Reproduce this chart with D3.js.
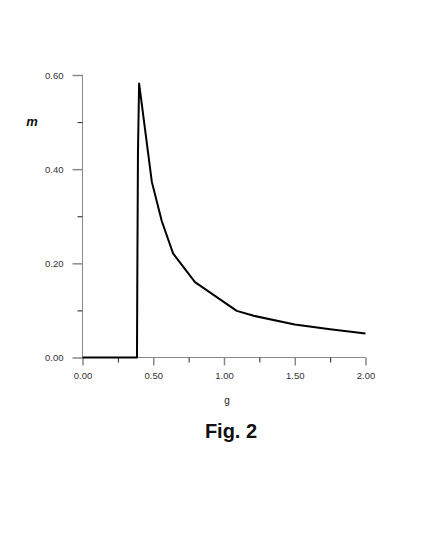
<!DOCTYPE html>
<html><head><meta charset="utf-8">
<script src="https://cdn.jsdelivr.net/npm/d3@7"></script>
<style>body{margin:0;background:#fff}svg{display:block}</style>
</head><body><svg id="c" width="425" height="550"></svg>
<script>
const gValues = [0, 0.385, 0.387, 0.392, 0.40, 0.49, 0.56, 0.64, 0.795, 1.09, 1.21, 1.50, 1.75, 2.00];
const mValues = [0, 0, 0.145, 0.435, 0.582, 0.373, 0.29, 0.221, 0.160, 0.099, 0.0885, 0.070, 0.060, 0.051];
const xMajorTicks = [0, 0.5, 1.0, 1.5, 2.0];
const xMinorTicks = [0.25, 0.75, 1.25, 1.75];
const yMajorTicks = [0, 0.2, 0.4, 0.6];
const yMinorTicks = [0.1, 0.3, 0.5];
const xTitle = "g", yTitle = "m", figTitle = "Fig. 2";

const svg = d3.select("#c");
const x = d3.scaleLinear().domain([0, 2]).range([82.5, 365.5]);
const y = d3.scaleLinear().domain([0, 0.6]).range([357.5, 75]);
const font = "'Liberation Sans', Arial, sans-serif";
const axisCol = "#8a8a8a";

// x axis
const gx = svg.append("g").attr("transform", `translate(0,${y(0)})`);
gx.call(d3.axisBottom(x).tickValues(xMajorTicks).tickSize(8).tickPadding(7).tickFormat(d3.format(".2f")));
gx.append("g").call(d3.axisBottom(x).tickValues(xMinorTicks).tickSize(5).tickFormat(""));
gx.selectAll(".domain").attr("stroke", axisCol).attr("d", `M${x(0)},0H${x(2)}`);
gx.selectAll("line").attr("stroke", axisCol).attr("stroke-width", 1.5);
gx.selectAll("g > g > g line").attr("stroke", "#222").attr("stroke-width", 1);
gx.selectAll("text").attr("font-family", font).attr("font-size", 9.5).attr("fill", "#333");

// y axis
const gy = svg.append("g").attr("transform", `translate(${x(0)},0)`);
gy.call(d3.axisLeft(y).tickValues(yMajorTicks).tickSize(10).tickPadding(9).tickFormat(d3.format(".2f")));
gy.append("g").call(d3.axisLeft(y).tickValues(yMinorTicks).tickSize(5).tickFormat(""));
gy.selectAll(".domain").attr("stroke", axisCol).attr("d", `M0,${y(0)}V${y(0.6)}`);
gy.selectAll("line").attr("stroke", axisCol).attr("stroke-width", 1.5);
gy.selectAll("g > g > g line").attr("stroke", "#222").attr("stroke-width", 1);
gy.selectAll("text").attr("font-family", font).attr("font-size", 9.5).attr("fill", "#333");

// curve
const data = gValues.map((g, i) => [g, mValues[i]]);
svg.append("path").datum(data)
  .attr("fill", "none").attr("stroke", "#000").attr("stroke-width", 2)
  .attr("stroke-linejoin", "round")
  .attr("d", d3.line().x(d => x(d[0])).y(d => y(d[1])));

// titles
svg.append("text").attr("x", 227).attr("y", 404).attr("text-anchor", "middle")
  .attr("font-family", font).attr("font-size", 10).attr("fill", "#222").text(xTitle);
svg.append("text").attr("x", 32).attr("y", 126).attr("text-anchor", "middle")
  .attr("font-family", font).attr("font-size", 13).attr("font-weight", "bold").attr("font-style", "italic").attr("fill", "#111").text(yTitle);
svg.append("text").attr("x", 231).attr("y", 438).attr("text-anchor", "middle")
  .attr("font-family", font).attr("font-size", 20).attr("font-weight", "bold").attr("fill", "#111").text(figTitle);
</script></body></html>
